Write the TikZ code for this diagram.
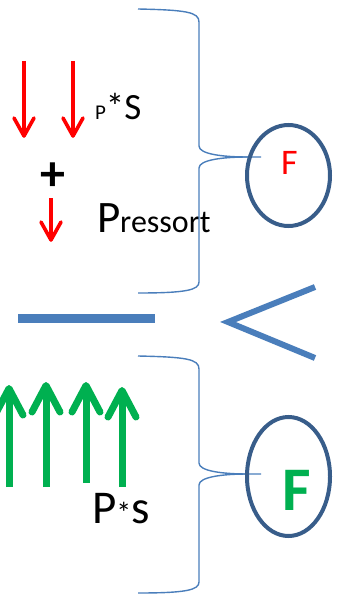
\documentclass[tikz,border=0pt]{standalone}
\usepackage{fontspec}
\setmainfont{Carlito}
\usetikzlibrary{shapes.geometric}
\definecolor{braceblue}{HTML}{4A7EBB}
\definecolor{ringblue}{HTML}{385D8A}
\definecolor{forcegreen}{HTML}{00B050}
\tikzset{
  brace/.style={draw=braceblue, line width=1.4pt},
  ring/.style={draw=ringblue, line width=4pt, ellipse, inner sep=0pt, outer sep=0pt},
  redshaft/.style={draw=red, line width=3.6pt},
  redhead/.style={draw=red, line width=3.6pt, line cap=round, line join=round},
  greenshaft/.style={draw=forcegreen, line width=7pt},
  greenhead/.style={draw=forcegreen, line width=7pt, line cap=round, line join=round},
  lbl/.style={inner sep=0pt, outer sep=0pt, anchor=base west},
}
\newcommand{\fs}[1]{\fontsize{#1}{#1}\selectfont}
\begin{document}
\begin{tikzpicture}[x=1pt, y=-1pt]
\useasboundingbox (0,0) rectangle (338,596);

% ---- upper block: pressure on the face plus the spring ----
\draw[redshaft] (24,61) -- (24,135);
\draw[redhead] (14,118) -- (24,136) -- (34,118);
\draw[redshaft] (73,61) -- (73,135);
\draw[redhead] (63,118) -- (73,136) -- (83,118);
\node[lbl] (ps) at (95,119.5) {{\fs{21}P}{\fs{37}*S}};
\node[inner sep=0pt, font=\bfseries] (plus) at (53,177) {\fs{50}+};
\draw[redshaft] (51,198) -- (51,239);
\draw[redhead] (41,222) -- (51,240) -- (61,222);
\node[lbl] (pr) at (97,232) {{\fs{45}P}{\fs{32}ressort}};

% upper brace gathering the loads into F
\coordinate (ttip) at (261,157);
\draw[brace] (138,9) .. controls (186,10) and (199,12) .. (199,22) -- (199,146)
  .. controls (199,154) and (222,157) .. (248,157) -- (ttip);
\draw[brace] (248,157) .. controls (222,157) and (199,160) .. (199,168) -- (199,282)
  .. controls (199,290) and (186,293) .. (138,293);
\node[ring, minimum width=83pt, minimum height=101pt] (ftop) at (288.5,175.5) {};
\node[lbl, text=red] (ftxt) at (281,175) {\fs{36}F};

% ---- comparison between the two cases ----
\node[fill=braceblue, minimum width=137pt, minimum height=9pt, inner sep=0pt] (bar) at (86.5,318.5) {};
\coordinate (lt1) at (315,287);
\coordinate (lt2) at (228,322);
\coordinate (lt3) at (315,358);
\draw[draw=braceblue, line width=6pt, line join=miter] (lt1) -- (lt2) -- (lt3);

% ---- lower block: pressure pushing up ----
\draw[greenshaft] (9,487) -- (9,392);
\draw[greenhead] (-5,415) -- (9,388.5) -- (23,415);
\draw[greenshaft] (46,487) -- (46,390);
\draw[greenhead] (32,412) -- (46,385.5) -- (60,412);
\draw[greenshaft] (86,483) -- (86,390);
\draw[greenhead] (72,412) -- (86,385.5) -- (100,412);
\draw[greenshaft] (122,487) -- (122,394);
\draw[greenhead] (108,417) -- (122,390.5) -- (136,417);
\node[lbl] (ps2) at (92,523) {{\fs{47}P}{\fs{30}*}{\fs{47}s}};

% lower brace gathering the loads into F
\coordinate (btip) at (261,474);
\draw[brace] (138,356) .. controls (186,357) and (199,359) .. (199,369) -- (199,463)
  .. controls (199,471) and (222,474) .. (248,474) -- (btip);
\draw[brace] (248,474) .. controls (222,474) and (199,477) .. (199,485) -- (199,582)
  .. controls (199,590) and (186,593) .. (138,593);
\node[ring, minimum width=83pt, minimum height=119pt] (fbot) at (288.5,476.5) {};
\node[lbl, text=forcegreen, font=\bfseries] (fbtxt) at (282,510) {\fs{62}F};
\end{tikzpicture}
\end{document}
